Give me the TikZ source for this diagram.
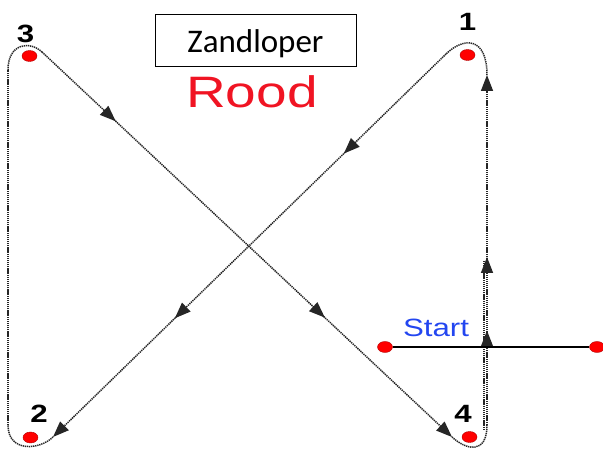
\documentclass[tikz,border=0pt]{standalone}
\usepackage{fontspec}
\usetikzlibrary{arrows.meta,decorations.markings,shapes.geometric}
\newfontfamily\arialfont{Liberation Sans}
\newfontfamily\calibrifont{Carlito}
\definecolor{rood}{RGB}{240,20,35}
\definecolor{startblauw}{RGB}{35,70,240}
\newcommand{\breed}[1]{\scalebox{1.25}[1]{#1}}
\tikzset{kop/.tip={Triangle[length=16pt,width=12pt]}}
\begin{document}
\begin{tikzpicture}[x=1pt, y=1pt,
        paal/.style={draw=red!70!black, fill=red, ellipse, minimum width=15pt, minimum height=11pt, inner sep=0pt, line width=0.4pt},
        nummer/.style={font=\arialfont\bfseries\fontsize{25}{25}\selectfont, inner sep=0pt, anchor=base},
        route/.style={draw=black!85, line width=1.5pt, dash pattern=on 1.3pt off 0.8pt},
        pijlen/.style 2 args={postaction={decorate}, decoration={markings,
            mark=at position #1 with {\arrow{kop}}, mark=at position #2 with {\arrow{kop}}}},
    ]
    \useasboundingbox (0,0) rectangle (603,455);
    % hoekpunten van de route
    \coordinate (a1) at (487,380);
    \coordinate (b1) at (446,401);
    \coordinate (a2) at (53,18);
    \coordinate (b2) at (8,30);
    \coordinate (a3) at (8,385);
    \coordinate (b3) at (42,403);
    \coordinate (a4) at (452,18);
    \coordinate (b4) at (487,30);
    % route
    \draw[route] (a1) .. controls (487,418) and (464,418.5) .. (b1);
    \draw[route, pijlen={0.26}{0.69}, -kop] (b1) -- (a2);
    \draw[route] (a2) .. controls (40,5) and (8,2) .. (b2);
    \draw[route] (b2) -- (a3);
    \draw[route] (a3) .. controls (8,412) and (30,414.3) .. (b3);
    \draw[route, pijlen={0.18}{0.69}, -kop] (b3) -- (a4);
    \draw[route] (a4) .. controls (466,5) and (487,0) .. (b4);
    \draw[route, pijlen={0.27}{0.48}, -kop] (b4) -- (a1);
    \coordinate (c1) at (484,25);
    \coordinate (c2) at (484,195);
    \draw[route] (c1) -- (c2);
    % startlijn
    \node[paal] (s1) at (385,108) {};
    \node[paal] (s2) at (597,108) {};
    \draw[line width=1.1pt] (s1) -- (s2);
    % paaltjes
    \node[paal] (p3) at (29.5,399) {};
    \node[paal] (p1) at (467.5,400) {};
    \node[paal] (p2) at (30.5,17.5) {};
    \node[paal] (p4) at (469.5,18) {};
    \node[nummer] (n3) at (25.5,412) {\breed{3}};
    \node[nummer] (n1) at (467.5,424) {\breed{1}};
    \node[nummer] (n2) at (39,32) {\breed{2}};
    \node[nummer] (n4) at (463,32) {\breed{4}};
    % teksten
    \node[draw, line width=0.8pt, minimum width=201pt, minimum height=52pt, text height=33pt, text depth=7pt,
        font=\calibrifont\fontsize{33}{33}\selectfont] (titel) at (255.5,415) {Zandloper};
    \node[anchor=base, text=rood, inner sep=0pt, font=\arialfont\fontsize{44}{44}\selectfont] (kleur) at (252,347) {\breed{Rood}};
    \node[anchor=base, text=startblauw, inner sep=0pt, font=\arialfont\fontsize{25}{25}\selectfont] (start) at (436,118) {\breed{Start}};
\end{tikzpicture}
\end{document}
